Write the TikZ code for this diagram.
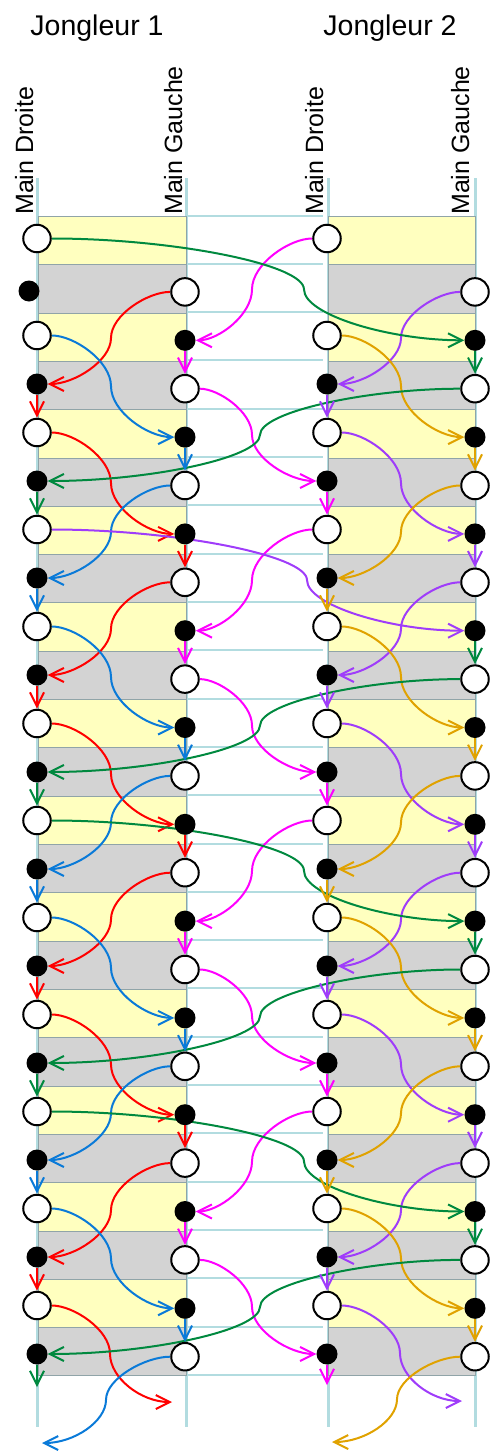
\documentclass[tikz,border=0pt]{standalone}
\usepackage{fontspec}
\setmainfont{Liberation Sans}
\usepackage{xcolor}
\definecolor{vizJaune}{HTML}{FFFFBF}
\definecolor{vizGris}{HTML}{D3D3D3}
\definecolor{vizBord}{HTML}{90A4A8}
\definecolor{vizCouloir}{HTML}{B2DCE0}
\definecolor{vizVert}{HTML}{00893F}
\definecolor{vizRouge}{HTML}{FF0000}
\definecolor{vizBleu}{HTML}{0A7AD8}
\definecolor{vizMagenta}{HTML}{FF00FF}
\definecolor{vizViolet}{HTML}{9F3CFA}
\definecolor{vizOrange}{HTML}{E0A200}
\usetikzlibrary{arrows.meta,calc}
\tikzset{
  >={Straight Barb[length=14pt,width=14pt]},
  ouvert/.style={circle, minimum size=29.5pt, inner sep=0pt},
  plein/.style={circle, minimum size=21pt, inner sep=0pt},
  vol/.style={line width=2pt, ->},
  tenir/.style={line width=2pt, ->},
  couloir/.style={draw=vizCouloir, line width=3pt},
  repere/.style={draw=vizCouloir, line width=2pt},
  bande/.style={draw=vizBord, line width=1pt},
  titre/.style={font=\fontsize{28.5}{32}\selectfont, inner sep=0pt},
  etiquette/.style={font=\fontsize{25}{28}\selectfont, inner sep=0pt, rotate=90, anchor=base west}
}
% courbe en S : depart horizontal, milieu vertical en x=#4, arrivee horizontale
\newcommand\trajet[4]{%
  \draw[vol,#1] let \p1=(#2), \p2=(#3) in
    (#2) .. controls ({(\x1+#4pt)/2},\y1) and (#4pt,{(3*\y1+\y2)/4}) ..
    (#4pt,{(\y1+\y2)/2}) .. controls (#4pt,{(\y1+3*\y2)/4}) and ({(#4pt+\x2)/2},\y2) .. (#3);}
% balle gardee en main jusqu'au lancer suivant
\newcommand\tenue[3]{\draw[tenir,#1] (#2) -- (#3);}

\begin{document}
\begin{tikzpicture}[x=1pt,y=1pt]
  \useasboundingbox (0,0) rectangle (490,-1456);

  % titres
  \node[titre, anchor=base] (titre1) at (97,-35) {Jongleur 1};
  \node[titre, anchor=base] (titre2) at (390,-35) {Jongleur 2};
  \node[etiquette] (lab1d) at (33,-215) {Main Droite};
  \node[etiquette] (lab1g) at (182,-215) {Main Gauche};
  \node[etiquette] (lab2d) at (323,-215) {Main Droite};
  \node[etiquette] (lab2g) at (469,-215) {Main Gauche};

  % fond : couloirs, bandes, lignes
  \foreach \xc in {37,186,328,475}
    \draw[couloir] (\xc,-178) -- (\xc,-1427);
  \foreach \i in {0,2,...,22} {
    \filldraw[bande, fill=vizJaune] (38,{-216.5-48.31*\i}) rectangle (186,{-216.5-48.31*(\i+1)});
    \filldraw[bande, fill=vizJaune] (328,{-216.5-48.31*\i}) rectangle (475,{-216.5-48.31*(\i+1)});
  }
  \foreach \i in {1,3,...,23} {
    \filldraw[bande, fill=vizGris] (38,{-216.5-48.31*\i}) rectangle (186,{-216.5-48.31*(\i+1)});
    \filldraw[bande, fill=vizGris] (328,{-216.5-48.31*\i}) rectangle (475,{-216.5-48.31*(\i+1)});
  }
  \foreach \k in {0,...,24}
    \draw[repere] (188,{-215.5-48.31*\k}) -- (323,{-215.5-48.31*\k});

  % balles : lancers (ouvert) et receptions (plein)
  \foreach \i in {0,2,...,22} {
    \node[ouvert] (j1d\i) at (37,{-238.5-48.5*\i}) {};
    \node[ouvert] (j2d\i) at (327,{-238.5-48.5*\i}) {};
  }
  \foreach \i in {3,5,...,23} {
    \node[plein] (j1d\i) at (37,{-238.5-48.5*\i}) {};
    \node[plein] (j2d\i) at (327,{-238.5-48.5*\i}) {};
  }
  \node[plein] (j1d1) at (29,-291) {};
  \foreach \i in {1,3,...,23} {
    \node[ouvert] (j1g\i) at (185,{-243.5-48.4*\i}) {};
    \node[ouvert] (j2g\i) at (475,{-243.5-48.4*\i}) {};
  }
  \foreach \i in {2,4,...,22} {
    \node[plein] (j1g\i) at (185,{-243.5-48.4*\i}) {};
    \node[plein] (j2g\i) at (475,{-243.5-48.4*\i}) {};
  }
  \coordinate (j1fin1) at (172,-1402);
  \coordinate (j1fin2) at (42,-1443);
  \coordinate (j1fin3) at (37,-1387);
  \coordinate (j2fin1) at (462,-1401);
  \coordinate (j2fin2) at (332,-1442);
  \coordinate (j2fin3) at (327,-1385);

  % jongleur 1
  \foreach \de/\vers/\mx in {j1g1/j1d3/111, j1d4/j1g6/111, j1g7/j1d9/111, j1d10/j1g12/111,
      j1g13/j1d15/111, j1d16/j1g18/111, j1g19/j1d21/111, j1d22/j1fin1/110}
    {\trajet{vizRouge}{\de}{\vers}{\mx}}
  \foreach \de/\vers/\mx in {j1d2/j1g4/111, j1g5/j1d7/111, j1d8/j1g10/111, j1g11/j1d13/111,
      j1d14/j1g16/111, j1g17/j1d19/111, j1d20/j1g22/111, j1g23/j1fin2/106}
    {\trajet{vizBleu}{\de}{\vers}{\mx}}
  % jongleur 2
  \foreach \de/\vers/\mx in {j2g1/j2d3/401, j2d4/j2g6/401, j2g7/j2d9/401, j2d10/j2g12/401,
      j2g13/j2d15/401, j2d16/j2g18/401, j2g19/j2d21/401, j2d22/j2fin1/400}
    {\trajet{vizViolet}{\de}{\vers}{\mx}}
  \foreach \de/\vers/\mx in {j2d2/j2g4/401, j2g5/j2d7/401, j2d8/j2g10/401, j2g11/j2d13/401,
      j2d14/j2g16/401, j2g17/j2d19/401, j2d20/j2g22/401, j2g23/j2fin2/397}
    {\trajet{vizOrange}{\de}{\vers}{\mx}}
  % passes entre jongleurs
  \foreach \de/\vers in {j2d0/j1g2, j1g3/j2d5, j2d6/j1g8, j1g9/j2d11,
      j2d12/j1g14, j1g15/j2d17, j2d18/j1g20, j1g21/j2d23}
    {\trajet{vizMagenta}{\de}{\vers}{252}}
  \foreach \de/\vers/\mx in {j1d0/j2g2/304, j2g3/j1d5/260, j2g9/j1d11/260, j1d12/j2g14/304,
      j2g15/j1d17/260, j1d18/j2g20/304, j2g21/j1d23/260}
    {\trajet{vizVert}{\de}{\vers}{\mx}}
  \trajet{vizViolet}{j1d6}{j2g8}{307}

  % balle tenue
  \foreach \de/\vers in {j1d3/j1d4, j1d9/j1d10, j1d15/j1d16, j1d21/j1d22,
      j1g6/j1g7, j1g12/j1g13, j1g18/j1g19}
    {\tenue{vizRouge}{\de}{\vers}}
  \foreach \de/\vers in {j1d7/j1d8, j1d13/j1d14, j1d19/j1d20,
      j1g4/j1g5, j1g10/j1g11, j1g16/j1g17, j1g22/j1g23}
    {\tenue{vizBleu}{\de}{\vers}}
  \foreach \de/\vers in {j1d5/j1d6, j1d11/j1d12, j1d17/j1d18, j1d23/j1fin3,
      j2g2/j2g3, j2g8/j2g9, j2g14/j2g15, j2g20/j2g21}
    {\tenue{vizVert}{\de}{\vers}}
  \foreach \de/\vers in {j1g2/j1g3, j1g8/j1g9, j1g14/j1g15, j1g20/j1g21,
      j2d5/j2d6, j2d11/j2d12, j2d17/j2d18, j2d23/j2fin3}
    {\tenue{vizMagenta}{\de}{\vers}}
  \foreach \de/\vers in {j2d3/j2d4, j2d9/j2d10, j2d15/j2d16, j2d21/j2d22,
      j2g6/j2g7, j2g12/j2g13, j2g18/j2g19}
    {\tenue{vizViolet}{\de}{\vers}}
  \foreach \de/\vers in {j2d7/j2d8, j2d13/j2d14, j2d19/j2d20,
      j2g4/j2g5, j2g10/j2g11, j2g16/j2g17, j2g22/j2g23}
    {\tenue{vizOrange}{\de}{\vers}}

  % cercles par-dessus les fleches
  \foreach \i in {0,2,...,22} {
    \filldraw[fill=white, draw=black, line width=2pt] (j1d\i) circle (13.75);
    \filldraw[fill=white, draw=black, line width=2pt] (j2d\i) circle (13.75);
  }
  \foreach \i in {1,3,...,23} {
    \filldraw[fill=white, draw=black, line width=2pt] (j1g\i) circle (13.75);
    \filldraw[fill=white, draw=black, line width=2pt] (j2g\i) circle (13.75);
  }
  \foreach \i in {3,5,...,23} {
    \fill (j1d\i) circle (10.5);
    \fill (j2d\i) circle (10.5);
  }
  \foreach \i in {2,4,...,22} {
    \fill (j1g\i) circle (10.5);
    \fill (j2g\i) circle (10.5);
  }
  \fill (j1d1) circle (10.5);
\end{tikzpicture}
\end{document}
